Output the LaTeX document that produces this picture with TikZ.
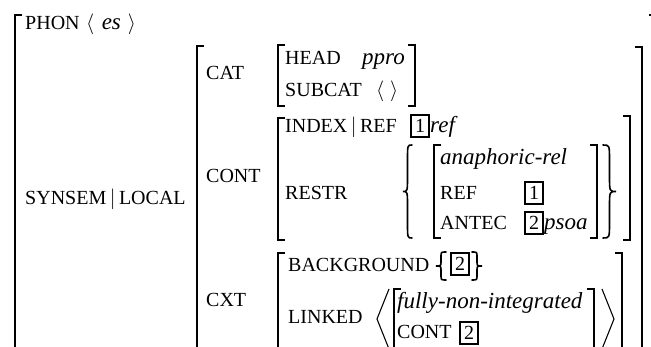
\documentclass[tikz,border=0pt]{standalone}
\usepackage{fontspec}
\setmainfont{Liberation Serif}
\usetikzlibrary{positioning}

\tikzset{
  feat/.style={anchor=base west, inner sep=0pt, font=\fontsize{20}{24}\selectfont},
  val/.style={anchor=base west, inner sep=0pt, font=\fontsize{23}{26}\selectfont\itshape},
  tagbox/.style={draw, line width=1.5pt, inner sep=0pt, minimum width=18pt, minimum height=22pt, font=\fontsize{20}{24}\selectfont},
  brk/.style={line width=1.1pt},
  curly/.style={line width=1.6pt, line cap=round},
}

% curly brace: edge x, tip x, top y, bottom y
\newcommand{\avmbrace}[4]{%
  \pgfmathsetmacro{\bmid}{(#3+#4)/2}
  \pgfmathsetmacro{\bxx}{(#1+#2)/2}
  \pgfmathsetmacro{\bqq}{(#4-#3)/6}
  \draw[curly] (#1,#3) .. controls (\bxx,#3) .. (\bxx,#3+\bqq) -- (\bxx,\bmid-\bqq)
    .. controls (\bxx,\bmid) .. (#2,\bmid) .. controls (\bxx,\bmid) .. (\bxx,\bmid+\bqq)
    -- (\bxx,#4-\bqq) .. controls (\bxx,#4) .. (#1,#4);
}

\begin{document}
\begin{tikzpicture}[x=1pt,y=-1pt]
    \useasboundingbox (0,0) rectangle (651,347);
    \clip (0,0) rectangle (651,347);

    % Left brackets
    \foreach \x/\t/\b in {15/15/360, 197/46/360, 278/45/106, 278/118/240, 278/253/360, 434/145/238, 394/289/360}
      \draw[brk] (\x+7,\t) -- (\x,\t) -- (\x,\b) -- (\x+7,\b);
    % Right brackets
    \foreach \x/\t/\b in {656/15/360, 642/47/360, 415/45/106, 630/116/240, 622/253/360, 597/145/238, 594/289/360}
      \draw[brk] (\x-7,\t) -- (\x,\t) -- (\x,\b) -- (\x-7,\b);

    % Top level
    \node[feat] (phon) at (25,30) {PHON};
    \node[feat] (phonval) at (86,30) {$\langle$\hspace{7.5pt}\textit{\fontsize{23}{26}\selectfont es}\hspace{7pt}$\rangle$};
    \node[feat] (synsem) at (25,205) {SYNSEM$\,|\,$LOCAL};

    % CAT
    \node[feat] (cat) at (206,80) {CAT};
    \node[feat] (head) at (285,65) {HEAD};
    \node[val] (headval) at (362,65) {ppro};
    \node[feat] (subcat) at (285,97) {SUBCAT};
    \node[feat] (subcatval) at (376,97) {$\langle\hspace{6pt}\rangle$};

    % CONT
    \node[feat] (cont) at (206,183) {CONT};
    \node[feat] (index) at (285,133) {INDEX$\,|\,$REF};
    \node[tagbox] (tagA) at (420,126) {1};
    \node[val] (refval) at (430,133) {ref};
    \node[feat] (restr) at (285,200) {RESTR};
    \avmbrace{412}{403}{145}{238}
    \avmbrace{603}{616}{145}{238}
    \node[val] (anarel) at (440,165) {anaphoric-rel};
    \node[feat] (restrref) at (440,200) {REF};
    \node[tagbox] (tagB) at (534,193) {1};
    \node[feat] (antec) at (440,230) {ANTEC};
    \node[tagbox] (tagC) at (534,223) {2};
    \node[val] (psoa) at (544,230) {psoa};

    % CXT
    \node[feat] (cxt) at (206,307) {CXT};
    \node[feat] (bg) at (288,272) {BACKGROUND};
    \avmbrace{446}{436}{252}{280}
    \node[tagbox] (tagD) at (460,264) {2};
    \avmbrace{472}{482}{252}{280}
    \node[feat] (linked) at (288,324) {LINKED};
    \draw[brk] (389,289) -- (377,319) -- (389,349);
    \draw[brk] (602,289) -- (614,319) -- (602,349);
    \node[val] (fni) at (397,309) {fully-non-integrated};
    \node[feat] (linkcont) at (397,339) {CONT};
    \node[tagbox] (tagE) at (469,333) {2};

\end{tikzpicture}
\end{document}
